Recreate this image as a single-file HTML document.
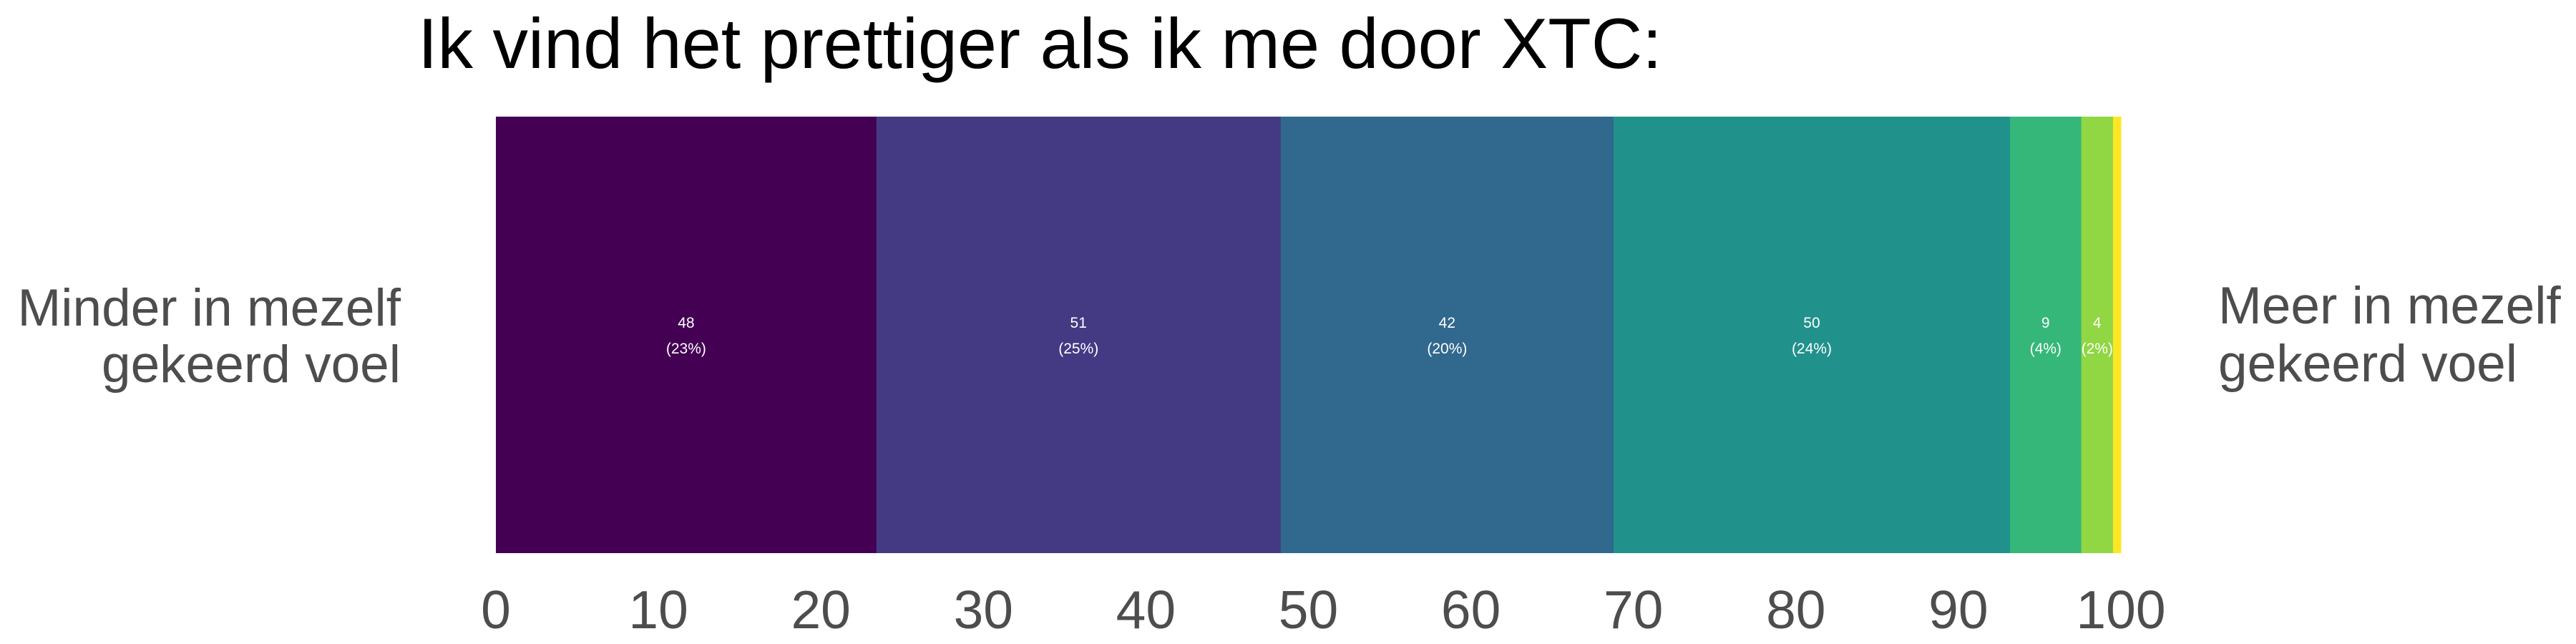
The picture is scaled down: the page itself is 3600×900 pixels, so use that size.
<!DOCTYPE html>
<html><head><meta charset="utf-8"><style>
html,body{margin:0;padding:0;background:#fff;}
svg{display:block;font-family:"Liberation Sans",Arial,sans-serif;}
</style></head><body>
<svg id="chart" width="3600" height="900" viewBox="0 0 3600 900">
<text x="584" y="95" font-size="99" fill="#000">Ik vind het prettiger als ik me door XTC:</text>
<g fill="#4d4d4d" font-size="73" text-anchor="end">
<text x="560" y="455">Minder in mezelf</text>
<text x="560" y="534">gekeerd voel</text>
</g>
<g fill="#4d4d4d" font-size="73">
<text x="3100" y="452">Meer in mezelf</text>
<text x="3100" y="533">gekeerd voel</text>
</g>
<g id="bars"></g>
<g id="labels"></g>
<g id="ticks"></g>
</svg>
<script>
const categories = ["1","2","3","4","5","6","7"];
const counts = [48, 51, 42, 50, 9, 4, 1];
const colors = ["#440154","#443983","#31688e","#21918c","#35b779","#90d743","#fde725"];
const tickValues = [0,10,20,30,40,50,60,70,80,90,100];

const X0 = 693, X1 = 2964, TOP = 163, BOT = 773;
const xScale = v => X0 + (X1 - X0) * v / 100;
const NS = "http://www.w3.org/2000/svg";
const total = counts.reduce((a,b)=>a+b,0);
const barsG = document.getElementById("bars");
const labG = document.getElementById("labels");
const tickG = document.getElementById("ticks");
let cum = 0;
counts.forEach((c,i)=>{
  const pct = c/total*100;
  const x = xScale(cum), w = xScale(cum+pct) - x;
  const r = document.createElementNS(NS,"rect");
  r.setAttribute("x",x); r.setAttribute("y",TOP);
  r.setAttribute("width",w+0.5); r.setAttribute("height",BOT-TOP);
  r.setAttribute("fill",colors[i]);
  
  
  barsG.appendChild(r);
  if (pct >= 1.5) {
    const cx = x + w/2;
    const t1 = document.createElementNS(NS,"text");
    t1.setAttribute("x",cx); t1.setAttribute("y",458);
    t1.setAttribute("text-anchor","middle"); t1.setAttribute("font-size","21"); t1.setAttribute("fill","#fff");
    t1.textContent = c;
    
    
    labG.appendChild(t1);
    const t2 = document.createElementNS(NS,"text");
    t2.setAttribute("x",cx); t2.setAttribute("y",494);
    t2.setAttribute("text-anchor","middle"); t2.setAttribute("font-size","21"); t2.setAttribute("fill","#fff");
    t2.textContent = "(" + Math.round(pct) + "%)";
    
    
    labG.appendChild(t2);
  }
  cum += pct;
});
tickValues.forEach(v=>{
  const t = document.createElementNS(NS,"text");
  t.setAttribute("x",xScale(v)); t.setAttribute("y",878);
  t.setAttribute("text-anchor","middle"); t.setAttribute("font-size","75"); t.setAttribute("fill","#4d4d4d");
  t.textContent = v;
  
  
  tickG.appendChild(t);
});
</script>
</body></html>
